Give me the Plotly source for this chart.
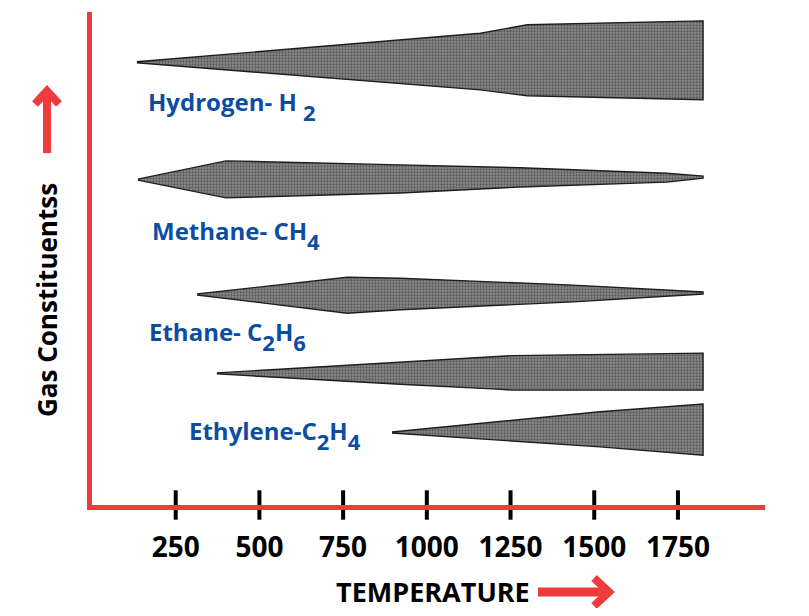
import plotly.graph_objects as go

# ---------------- data ----------------
TICK_TEMPS = [250, 500, 750, 1000, 1250, 1500, 1750]
TICK_LABELS = ["250", "500", "750", "1000", "1250", "1500", "1750"]

# relative amount bands: temperature points, upper and lower edge (arbitrary units 0-100)
hydrogen_T = [134, 1160, 1300, 1825]
hydrogen_upper = [89.9, 95.7, 97.4, 98.2]
hydrogen_lower = [89.7, 84.2, 83.0, 82.2]

methane_T = [137, 400, 920, 1278, 1717, 1825]
methane_upper = [66.1, 69.8, 69.0, 68.4, 67.3, 66.7]
methane_lower = [65.9, 62.3, 63.3, 64.5, 65.5, 66.3]

ethane_T = [314, 762, 920, 1437, 1825]
ethane_upper = [42.8, 46.2, 46.0, 44.6, 43.2]
ethane_lower = [42.6, 38.9, 39.6, 41.2, 42.8]

unnamed_T = [373, 920, 1210, 1257, 1825]
unnamed_upper = [26.8, 29.0, 30.2, 30.3, 30.8]
unnamed_lower = [26.6, 24.5, 23.5, 23.3, 23.3]

ethylene_T = [896, 1517, 1825]
ethylene_upper = [14.8, 18.9, 20.5]
ethylene_lower = [14.6, 11.8, 10.1]

SUB = '<sub><span style="font-size:22px;baseline-shift:-5px">{}</span></sub>'
GAS_LABELS = ["Hydrogen- H " + SUB.format("2"),
              "Methane- CH" + SUB.format("4"),
              "Ethane- C" + SUB.format("2") + "H" + SUB.format("6"),
              "Ethylene-C" + SUB.format("2") + "H" + SUB.format("4")]

X_TITLE = "TEMPERATURE"
Y_TITLE = "Gas Constituentss"

# ---------------- layout constants ----------------
# the page body has an 8px margin, so the figure is drawn 8px smaller/offset
OFF = 8
W, H = 793, 600
ML, MT = 84, 4
MR = W - (757)
MB = H - (497)
PW, PH = W - ML - MR, H - MT - MB
RED = "#EF3B3B"
BLUE = "#0C4DA2"


def px(X):
    return (X - OFF - ML) / PW


def py(Y):
    return (H - MB - (Y - OFF)) / PH


fig = go.Figure()

bands = [
    (hydrogen_T, hydrogen_upper, hydrogen_lower),
    (methane_T, methane_upper, methane_lower),
    (ethane_T, ethane_upper, ethane_lower),
    (unnamed_T, unnamed_upper, unnamed_lower),
    (ethylene_T, ethylene_upper, ethylene_lower),
]
for T, up, lo in bands:
    fig.add_trace(go.Scatter(
        x=T + T[::-1], y=up + lo[::-1], mode="lines", fill="toself",
        line=dict(color="#1e1e1e", width=1.4),
        fillcolor="#6e6e6e",
        fillpattern=dict(shape=".", bgcolor="#8a8a8a", fgcolor="#2a2a2a",
                         size=3, solidity=0.45),
        hoverinfo="skip", showlegend=False))

# tick marks crossing the axis
fig.add_trace(go.Scatter(
    x=TICK_TEMPS, y=[0] * len(TICK_TEMPS), mode="markers",
    marker=dict(symbol="line-ns", size=21, line=dict(color="black", width=4)),
    cliponaxis=False, hoverinfo="skip", showlegend=False))

label_pos = [(160, 80.9), (173, 54.7), (164, 34.2), (284, 14.3)]
ann = []
for (lx, ly), txt in zip(label_pos, GAS_LABELS):
    ann.append(dict(x=lx, y=ly, xref="x", yref="y", text="<b>" + txt + "</b>",
                    showarrow=False, xanchor="left", yanchor="middle",
                    font=dict(family="Open Sans", size=24, color=BLUE)))

ann.append(dict(x=px(433), y=py(591), xref="paper", yref="paper",
                text="<b>" + X_TITLE + "</b>", showarrow=False,
                xanchor="center", yanchor="middle", height=28, valign="middle",
                font=dict(family="Open Sans", size=27, color="black")))
ann.append(dict(x=px(47), y=py(300), xref="paper", yref="paper",
                text="<b>" + Y_TITLE + "</b>", showarrow=False, textangle=-90,
                xanchor="center", yanchor="middle",
                font=dict(family="Open Sans", size=26, color="black")))

shapes = [
    # right arrow
    dict(type="line", xref="paper", yref="paper", x0=px(538), y0=py(592), x1=px(606), y1=py(592),
         line=dict(color=RED, width=9)),
    dict(type="path", xref="paper", yref="paper",
         path=f"M {px(594)} {py(578)} L {px(609)} {py(592)} L {px(594)} {py(606)}",
         line=dict(color=RED, width=8)),
    # up arrow
    dict(type="line", xref="paper", yref="paper", x0=px(47), y0=py(153), x1=px(47), y1=py(92),
         line=dict(color=RED, width=8)),
    dict(type="path", xref="paper", yref="paper",
         path=f"M {px(35)} {py(104)} L {px(47)} {py(91)} L {px(59)} {py(104)}",
         line=dict(color=RED, width=8)),
]

fig.update_layout(
    width=W, height=H, margin=dict(l=ML, r=MR, t=MT, b=MB),
    paper_bgcolor="white", plot_bgcolor="white",
    annotations=ann, shapes=shapes,
    xaxis=dict(range=[0, 2010], showline=True, linecolor=RED, linewidth=5,
               showgrid=False, zeroline=False, tickvals=TICK_TEMPS,
               ticktext=["<b>" + t + "</b>" for t in TICK_LABELS],
               ticks="outside", ticklen=13, tickcolor="rgba(0,0,0,0)",
               automargin=False,
               tickfont=dict(family="Open Sans", size=28, color="black")),
    yaxis=dict(range=[0, 100], showline=True, linecolor=RED, linewidth=5,
               showgrid=False, zeroline=False, showticklabels=False, ticks="",
               automargin=False),
)

fig.write_html("out.html")
